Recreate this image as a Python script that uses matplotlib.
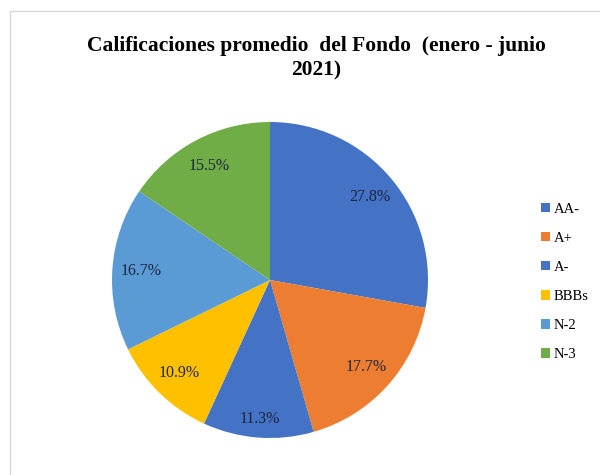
import matplotlib.pyplot as plt
from matplotlib.patches import Rectangle

categories = ['AA-', 'A+', 'A-', 'BBBs', 'N-2', 'N-3']
shares = [27.8, 17.7, 11.3, 10.9, 16.7, 15.5]
colors = ['#4472C4', '#ED7D31', '#4472C4', '#FFC000', '#5B9BD5', '#70AD47']

plt.rcParams['font.family'] = ['Liberation Serif', 'DejaVu Serif']

fig = plt.figure(figsize=(6, 4.75), dpi=100)

# chart border (cropped at right and bottom)
fig.add_artist(Rectangle((10 / 600, -0.1), 1.2, 1 - 11 / 475 + 0.1,
                         transform=fig.transFigure, fill=False,
                         edgecolor='#d9d9d9', linewidth=1.0))

fig.text(0.527, 0.925, 'Calificaciones promedio  del Fondo  (enero - junio\n2021)',
         ha='center', va='top', fontsize=15.5, fontweight='bold',
         linespacing=1.3)

# pie centred at (270, 280) px, radius 158 px
ax = fig.add_axes([112 / 600, 37 / 475, 316 / 600, 316 / 475])
wedges, texts, autotexts = ax.pie(
    shares, colors=colors, startangle=90, counterclock=False,
    autopct='%.1f%%', pctdistance=0.82,
    textprops=dict(fontsize=11.5, color='#1c2540'))
ax.set_xlim(-1, 1)
ax.set_ylim(-1, 1)
ax.set_aspect('equal')

# the small A- slice label sits a bit further out
x, y = autotexts[2].get_position()
autotexts[2].set_position((x * 0.88 / 0.82, y * 0.88 / 0.82))

fig.legend(wedges, categories, loc='center left',
           bbox_to_anchor=(528 / 600, 1 - 282 / 475), frameon=False,
           fontsize=10.5, handlelength=0.6, handleheight=0.6,
           handletextpad=0.25, labelspacing=1.1)

fig.savefig('out.png', dpi=100)
